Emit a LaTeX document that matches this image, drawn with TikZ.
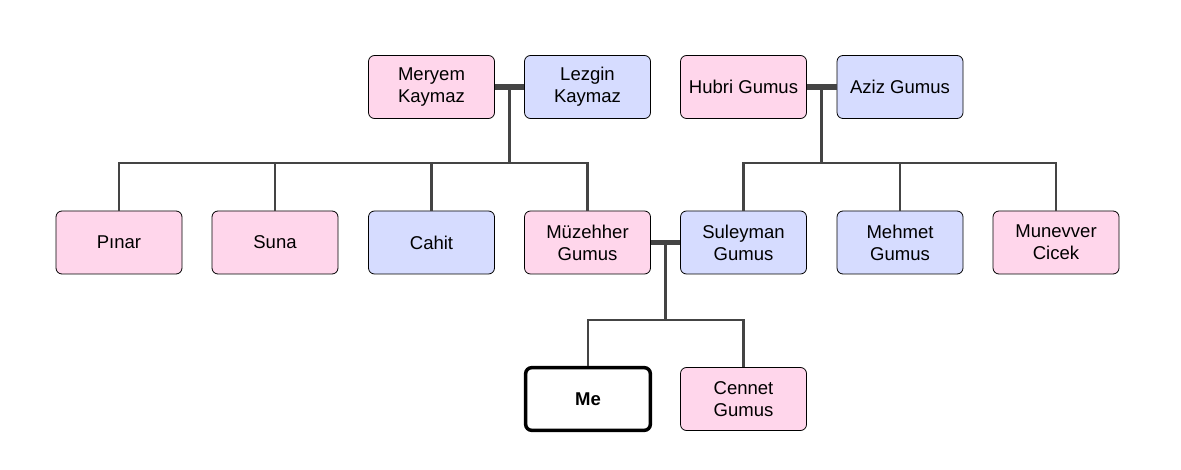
\documentclass[tikz,border=0pt]{standalone}
\usepackage{fontspec}
\setmainfont{Liberation Sans}
\usetikzlibrary{calc}
\definecolor{pinkf}{RGB}{255,214,235}
\definecolor{bluef}{RGB}{214,220,255}
\definecolor{linec}{RGB}{68,68,68}
\begin{document}
\begin{tikzpicture}[x=0.75pt,y=-0.75pt,
  person/.style={draw=black,line width=0.6pt,rounded corners=4.5pt,minimum width=94.5pt,minimum height=47.25pt,inner sep=0pt,align=center,font=\fontsize{13.9pt}{16.5pt}\selectfont},
  female/.style={person,fill=pinkf},
  male/.style={person,fill=bluef},
  self/.style={person,fill=white,line width=2.6pt,minimum width=93.5pt,minimum height=47pt,font=\fontsize{13.9pt}{16.5pt}\selectfont\bfseries},
  marriage/.style={draw=linec,line width=3.8pt},
  link/.style={draw=linec,line width=1.9pt}]
\useasboundingbox (0,0) rectangle (1181,470);
% top row
\node[female] (meryem) at (431.5,87) {Meryem\\Kaymaz};
\node[male] (lezgin) at (587.5,87) {Lezgin\\Kaymaz};
\node[female] (hubri) at (743.5,87) {Hubri Gumus};
\node[male] (aziz) at (900,87) {Aziz Gumus};
% middle row
\node[female] (pinar) at (119,242.5) {Pınar};
\node[female] (suna) at (275,242.5) {Suna};
\node[male] (cahit) at (431.5,242.5) {Cahit};
\node[female] (muzehher) at (587.5,242.5) {Müzehher\\Gumus};
\node[male] (suleyman) at (743.5,242.5) {Suleyman\\Gumus};
\node[male] (mehmet) at (900,242.5) {Mehmet\\Gumus};
\node[female] (munevver) at (1056,242.5) {Munevver\\Cicek};
% bottom row
\node[self] (me) at (588,399) {Me};
\node[female] (cennet) at (743.5,399) {Cennet\\Gumus};
% junctions
\coordinate (m1) at ($(meryem.east)!0.5!(lezgin.west)$);
\coordinate (m2) at ($(hubri.east)!0.5!(aziz.west)$);
\coordinate (m3) at ($(muzehher.east)!0.5!(suleyman.west)$);
\coordinate (b1) at (0,163);
\coordinate (b2) at (0,320);
% marriages
\draw[marriage] (meryem.east) -- (lezgin.west);
\draw[marriage] (hubri.east) -- (aziz.west);
\draw[marriage] (muzehher.east) -- (suleyman.west);
% family 1
\draw[link] (m1) -- (m1 |- b1);
\draw[link] (pinar.north) |- (muzehher.north |- b1) -- (muzehher.north);
\draw[link] (suna.north) -- (suna.north |- b1);
\draw[link] (cahit.north) -- (cahit.north |- b1);
% family 2
\draw[link] (m2) -- (m2 |- b1);
\draw[link] (suleyman.north) |- (munevver.north |- b1) -- (munevver.north);
\draw[link] (mehmet.north) -- (mehmet.north |- b1);
% family 3
\draw[link] (m3) -- (m3 |- b2);
\draw[link] (me.north) |- (cennet.north |- b2) -- (cennet.north);
\end{tikzpicture}
\end{document}
